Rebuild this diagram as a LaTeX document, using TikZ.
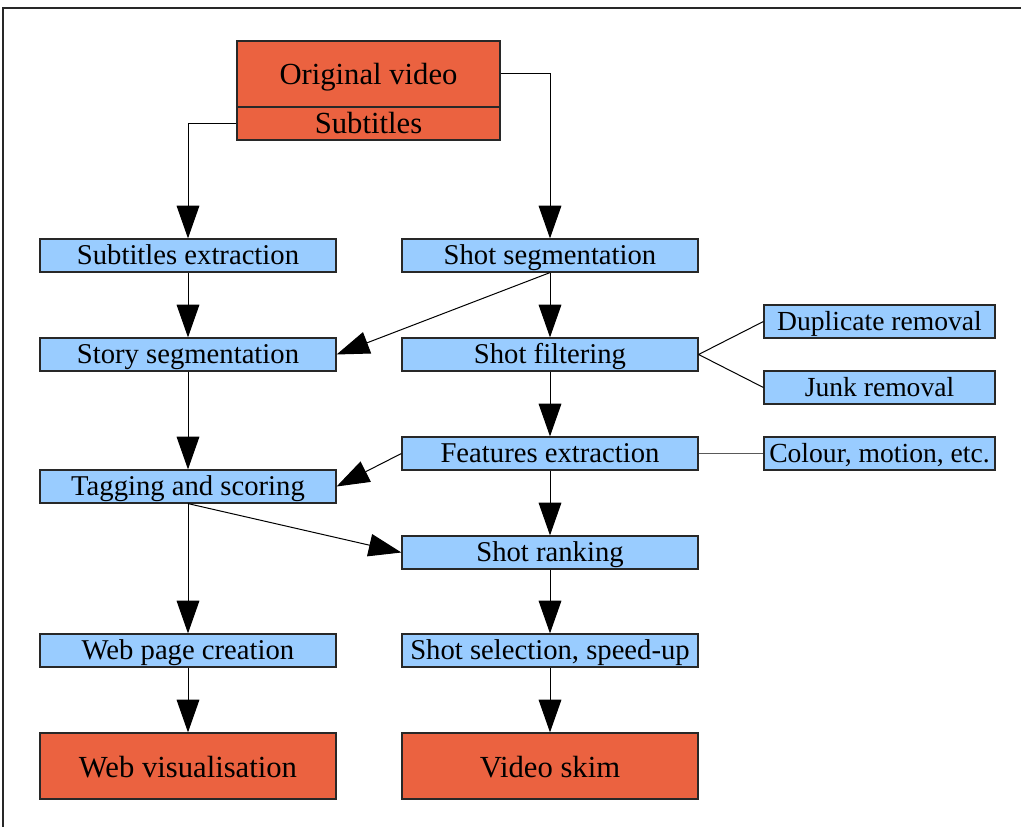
\documentclass[tikz,border=0pt]{standalone}
\usepackage{fontspec}
\setmainfont{Liberation Serif}
\usetikzlibrary{arrows.meta}

\definecolor{vidred}{RGB}{235,98,64}
\definecolor{stepblue}{RGB}{153,204,255}
\definecolor{boxline}{RGB}{40,40,40}

\tikzset{
    stage/.style={draw=boxline, line width=0.9pt, fill=stepblue, inner sep=0pt,
        minimum width=222pt, minimum height=24.75pt,
        font=\fontsize{21.5}{25}\selectfont, text height=19.4pt, text depth=5.35pt},
    media/.style={stage, fill=vidred, minimum height=49.5pt,
        font=\fontsize{23}{27}\selectfont, text height=33pt, text depth=16.5pt},
    option/.style={stage, minimum width=173.25pt, font=\fontsize{20.7}{24}\selectfont},
    flow/.style={-{Triangle[width=17pt,length=24.5pt]}, line width=0.75pt},
    link/.style={line width=0.75pt}
}

\begin{document}
\begin{tikzpicture}[x=0.75pt, y=-0.75pt]
        \useasboundingbox (0,0) rectangle (1021,827);
        \draw[line width=0.9pt, boxline] (3,827) -- (3,8) -- (1021,8); %frame
        % input
        \node [media, minimum width=197.25pt] (orig) at (368.5,74) {Original video};
        \node [media, minimum width=197.25pt, minimum height=24.75pt,
            text height=20.25pt, text depth=4.5pt] (subs) at (368.5,123.5) {Subtitles};
        % left column
        \node [stage] (subext) at (188,255.5) {Subtitles extraction};
        \node [stage] (story) at (188,354.5) {Story segmentation};
        \node [stage] (tagging) at (188,486.5) {Tagging and scoring};
        \node [stage] (webpage) at (188,650.5) {Web page creation};
        \node [media] (webvis) at (188,766) {Web visualisation};
        % right column
        \node [stage] (shotseg) at (550,255.5) {Shot segmentation};
        \node [stage] (shotfilt) at (550,354.5) {Shot filtering};
        \node [stage] (featext) at (550,453.5) {Features extraction};
        \node [stage] (shotrank) at (550,552.5) {Shot ranking};
        \node [stage] (shotsel) at (550,650.5) {Shot selection, speed-up};
        \node [media] (skim) at (550,766) {Video skim};
        % side options
        \node [option] (dupl) at (879.5,321.5) {Duplicate removal};
        \node [option] (junk) at (879.5,387.5) {Junk removal};
        \node [option] (colour) at (879.5,453.5) {Colour, motion, etc.};

        \draw[flow]
            (orig.east) -| (shotseg.north) %video to shots
            ;
        \draw[flow]
            (subs.west) -| (subext.north) %subtitles to text
            ;
        \draw[flow] (subext) -- (story);
        \draw[flow] (story) -- (tagging);
        \draw[flow] (tagging) -- (webpage);
        \draw[flow] (webpage) -- (webvis);
        \draw[flow] (shotseg) -- (shotfilt);
        \draw[flow] (shotfilt) -- (featext);
        \draw[flow] (featext) -- (shotrank);
        \draw[flow] (shotrank) -- (shotsel);
        \draw[flow] (shotsel) -- (skim);
        \draw[flow] (shotseg.south) -- (story.east); %shots into stories
        \draw[flow] (featext.west) -- (tagging.east); %features into tags
        \draw[flow] (tagging.south) -- (shotrank.west); %scores into ranking
        \draw[link]
            (shotfilt.east) -- (dupl.west)
            (shotfilt.east) -- (junk.west)
        ;
        \draw[link, gray!70!black] (featext.east) -- (colour.west);
    \end{tikzpicture}
\end{document}
